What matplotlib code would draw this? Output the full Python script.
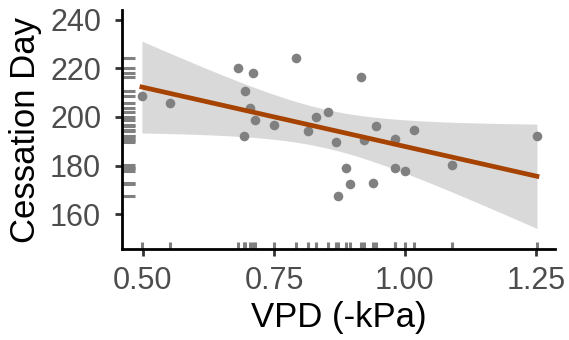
import numpy as np
import matplotlib
matplotlib.use("Agg")
import matplotlib.pyplot as plt
from matplotlib.transforms import blended_transform_factory

plt.rcParams['font.family'] = ['Liberation Sans', 'DejaVu Sans']

# VPD (-kPa) and cessation day
vpd = [0.498, 0.551, 0.681, 0.710, 0.695, 0.704, 0.714, 0.693, 0.751,
       0.793, 0.815, 0.830, 0.853, 0.868, 0.887, 0.895, 0.872,
       0.917, 0.945, 0.922, 0.982, 1.018, 0.982, 1.001, 0.939, 1.089, 1.252]
day = [208.6, 205.9, 220.0, 218.2, 210.6, 203.7, 198.6, 192.2, 196.7,
       224.4, 194.1, 200.0, 202.2, 189.9, 179.0, 172.2, 167.3,
       216.3, 196.3, 190.4, 190.9, 194.5, 178.9, 177.8, 172.7, 180.4, 192.3]
xticks = [0.50, 0.75, 1.00, 1.25]
yticks = [160, 180, 200, 220, 240]

x = np.array(vpd)
y = np.array(day)

# linear fit with confidence band
n = len(x)
slope, intercept = np.polyfit(x, y, 1)
xs = np.linspace(x.min(), x.max(), 100)
ys = intercept + slope * xs
resid = y - (intercept + slope * x)
s = np.sqrt(np.sum(resid ** 2) / (n - 2))
se = s * np.sqrt(1 / n + (xs - x.mean()) ** 2 / np.sum((x - x.mean()) ** 2))
t = 3.1  # band in the original is wider than a plain 95% band

fig = plt.figure(figsize=(5.69, 3.40), dpi=100)
ax = fig.add_axes([0.2144, 0.2676, 0.7606, 0.7024])

ax.fill_between(xs, ys - t * se, ys + t * se, color='#d9d9d9', lw=0, zorder=1)
ax.scatter(x, y, s=48, color='#808080', zorder=2, lw=0)
ax.plot(xs, ys, color='#a64300', lw=3.4, zorder=3)

# rugs on both axes
tx = blended_transform_factory(ax.transData, ax.transAxes)
ty = blended_transform_factory(ax.transAxes, ax.transData)
for v in x:
    ax.plot([v, v], [0, 0.03], transform=tx, color='#808080', lw=2.2,
            solid_capstyle='butt', clip_on=False, zorder=2)
for v in y:
    ax.plot([0, 0.03], [v, v], transform=ty, color='#808080', lw=2.2,
            solid_capstyle='butt', clip_on=False, zorder=2)

ax.set_xlim(0.46, 1.286)
ax.set_ylim(145.6, 244)
ax.set_xticks(xticks)
ax.set_xticklabels(['%.2f' % v for v in xticks])
ax.set_yticks(yticks)

for side in ['top', 'right']:
    ax.spines[side].set_visible(False)
for side in ['left', 'bottom']:
    ax.spines[side].set_linewidth(2)
    ax.spines[side].set_color('black')

ax.tick_params(axis='both', length=5, width=2, color='#333333',
               labelsize=22, labelcolor='#4d4d4d')
ax.tick_params(axis='x', pad=7)
ax.tick_params(axis='y', pad=10)
ax.set_xlabel('VPD (-kPa)', fontsize=25, labelpad=3.5)
ax.set_ylabel('Cessation Day', fontsize=25, labelpad=6)

fig.savefig('out.png', dpi=100)
